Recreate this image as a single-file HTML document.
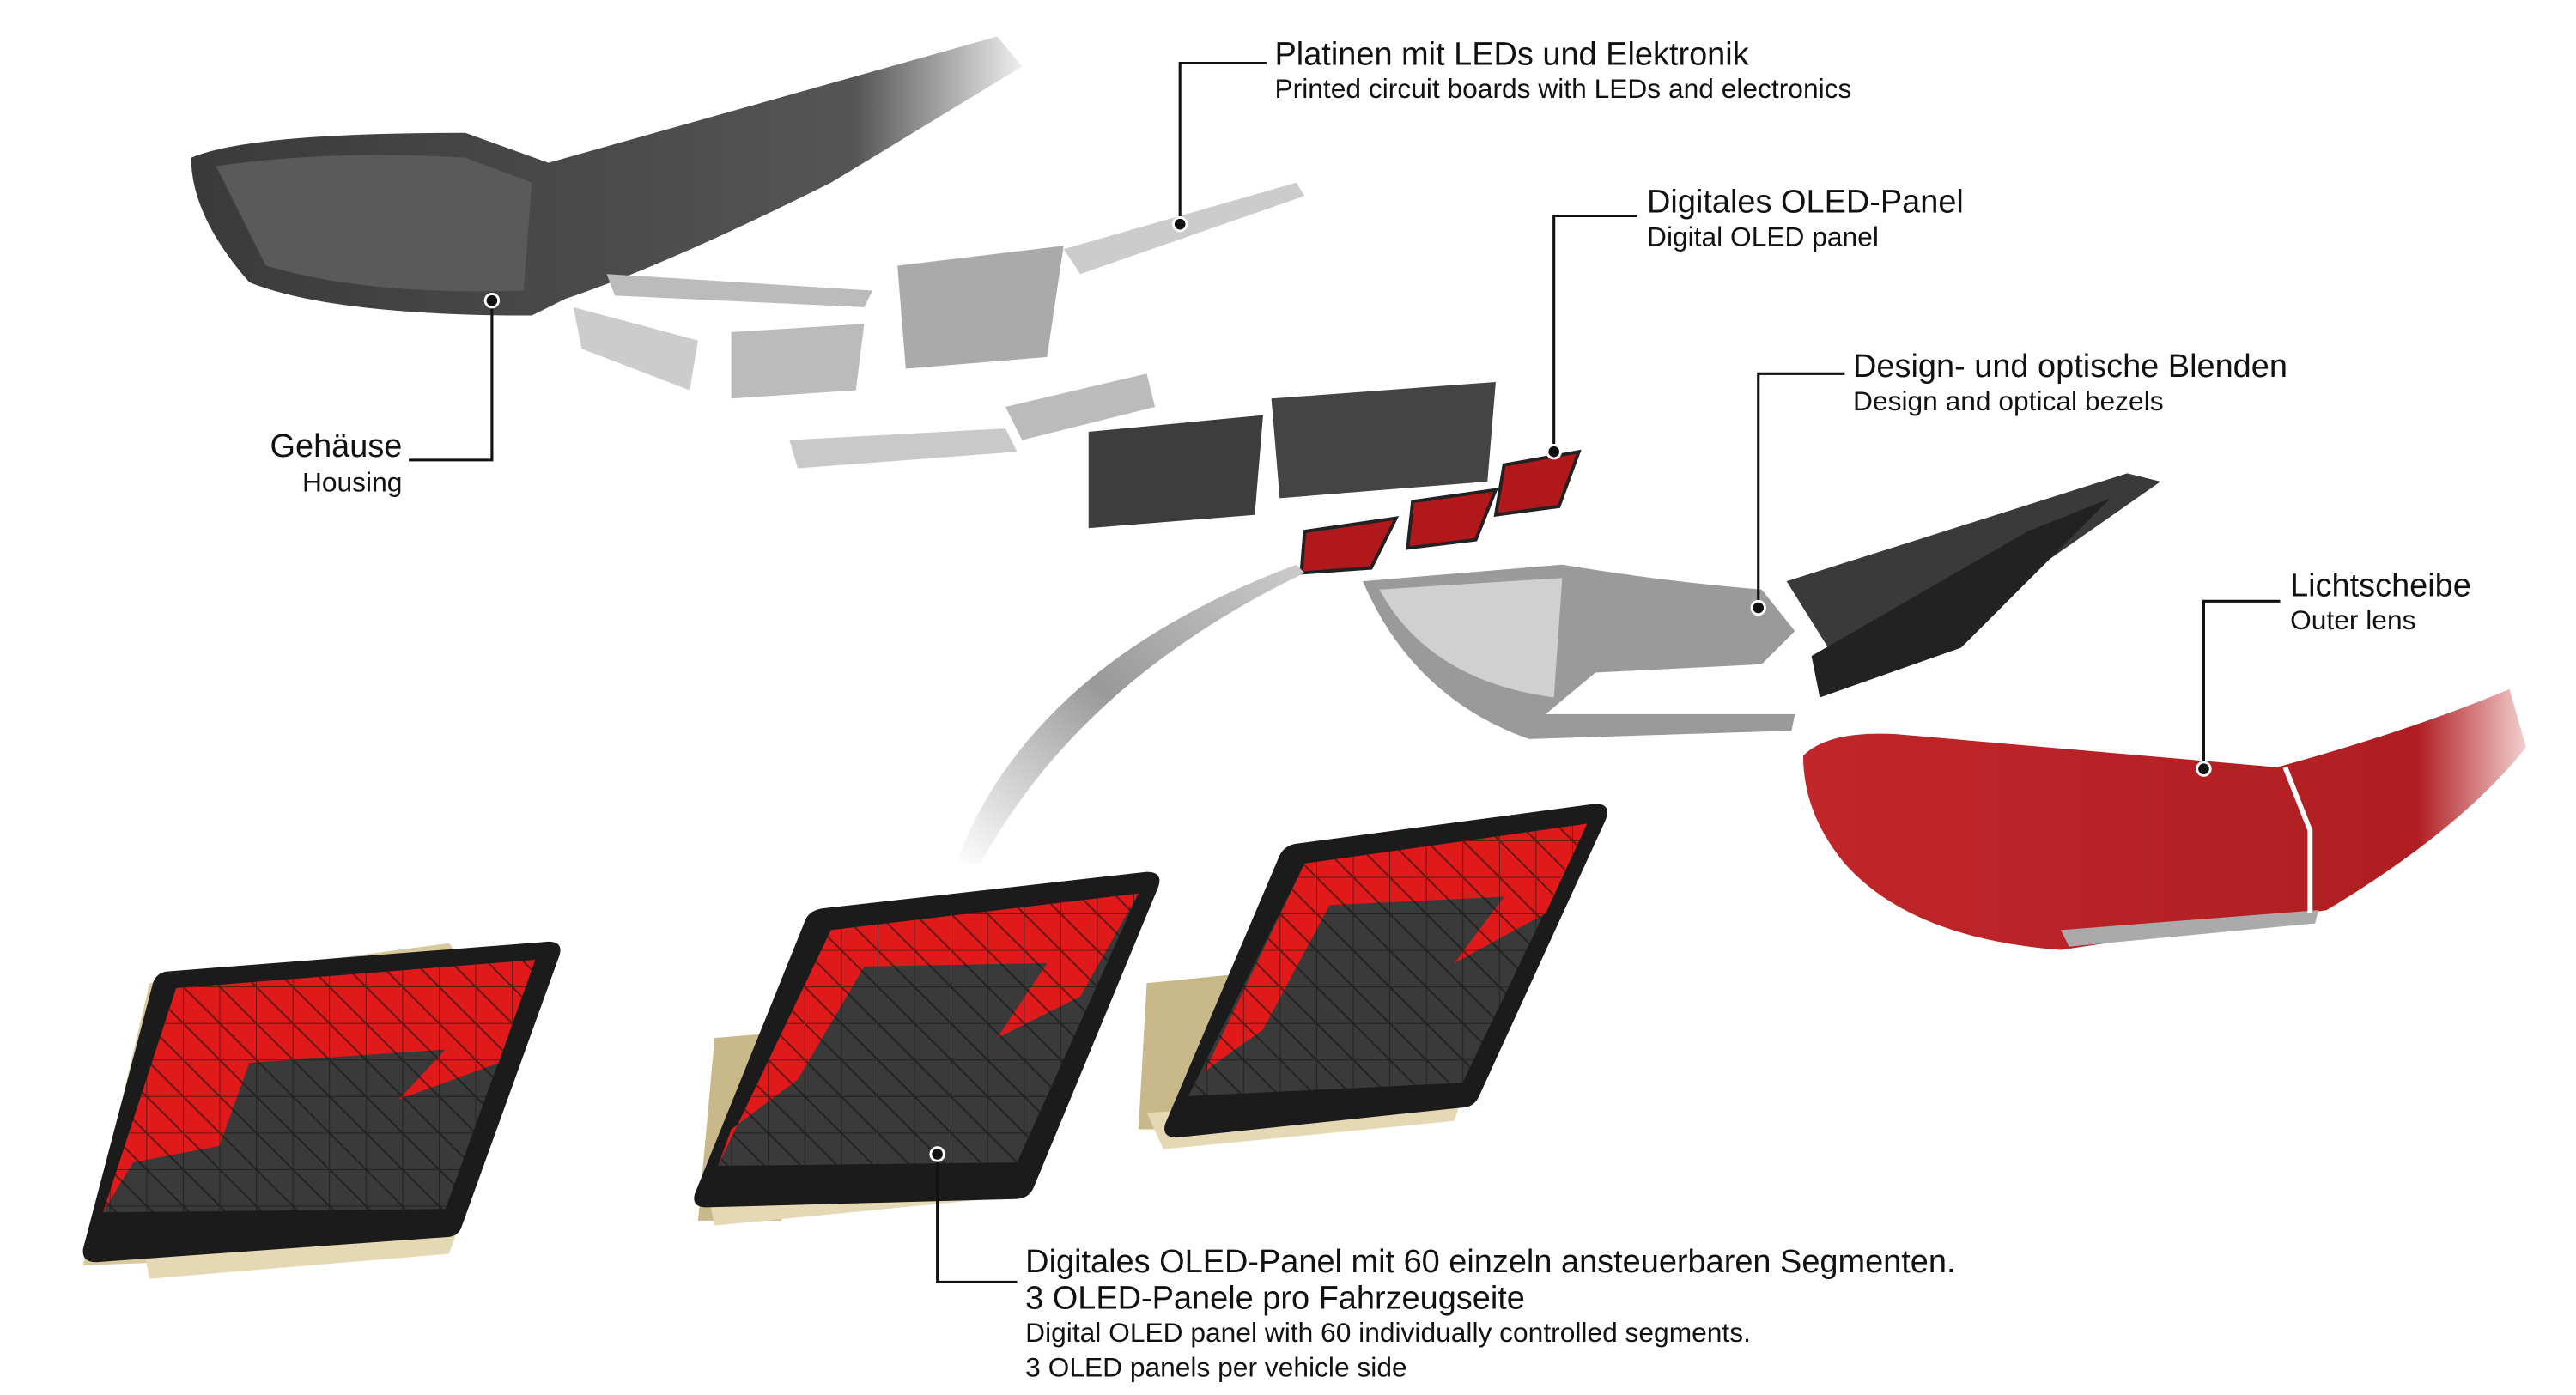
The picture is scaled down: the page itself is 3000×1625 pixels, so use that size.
<!DOCTYPE html>
<html><head><meta charset="utf-8"><style>
html,body{margin:0;padding:0;background:#fff;}
svg{display:block;}
text{font-family:"Liberation Sans",sans-serif;fill:#111;}
.b{font-size:19.6px;}
.s{font-size:16.4px;}
</style></head><body>
<svg width="3000" height="1625" viewBox="0 0 1550 840" preserveAspectRatio="none" xmlns="http://www.w3.org/2000/svg">
<defs>
<linearGradient id="hous" x1="0" y1="0" x2="1" y2="0"><stop offset="0" stop-color="#3a3a3a"/><stop offset="0.8" stop-color="#555"/><stop offset="1" stop-color="#eee"/></linearGradient>
<linearGradient id="lens" x1="0" y1="0" x2="1" y2="0"><stop offset="0" stop-color="#c0262a"/><stop offset="0.85" stop-color="#b01e22"/><stop offset="1" stop-color="#f3d0d0"/></linearGradient>
<linearGradient id="sw" x1="0" y1="1" x2="1" y2="0"><stop offset="0" stop-color="#fff"/><stop offset="0.5" stop-color="#999"/><stop offset="1" stop-color="#ccc"/></linearGradient>
<pattern id="tri" width="22" height="22" patternUnits="userSpaceOnUse"><path d="M0 0L22 22M0 0H22M0 0V22" stroke="#111" stroke-width="1" fill="none"/></pattern>
</defs>

<path d="M115 95 Q150 80 280 80 L330 98 L600 22 L615 40 L500 110 Q400 160 340 180 L320 190 Q200 190 150 170 Q115 130 115 95Z" fill="url(#hous)"/>
<path d="M130 100 Q200 90 280 95 L320 110 L315 175 Q220 178 160 160Z" fill="#5a5a5a"/>

<path d="M640 150 L780 110 L785 118 L650 165Z" fill="#ccc"/>
<path d="M365 165 L525 175 L520 185 L370 178Z" fill="#bbb"/>
<path d="M345 185 L420 205 L415 235 L350 210Z" fill="#ccc"/>
<path d="M440 200 L520 195 L515 235 L440 240Z" fill="#bbb"/>
<path d="M540 160 L640 148 L630 215 L545 222Z" fill="#aaa"/>
<path d="M475 265 L605 258 L612 272 L480 282Z" fill="#c9c9c9"/>
<path d="M605 245 L690 225 L695 245 L615 265Z" fill="#bbb"/>
<path d="M655 260 L760 250 L755 310 L655 318Z" fill="#3d3d3d"/>
<path d="M765 240 L900 230 L895 290 L770 300Z" fill="#444"/>
<path d="M785 320 L840 312 L825 342 L783 345Z" fill="#b0181c" stroke="#222" stroke-width="2"/>
<path d="M850 302 L900 295 L888 325 L847 330Z" fill="#b0181c" stroke="#222" stroke-width="2"/>
<path d="M905 280 L950 272 L938 305 L900 310Z" fill="#b0181c" stroke="#222" stroke-width="2"/>

<path d="M820 350 L940 340 Q1000 350 1060 355 L1080 380 L1060 400 L960 405 L930 430 L1080 430 L1078 440 L920 445 Q850 420 820 350Z" fill="#9a9a9a"/>
<path d="M830 355 L940 348 L935 420 Q860 410 830 355Z" fill="#d0d0d0"/>
<path d="M1075 350 L1280 285 L1300 290 L1200 360 L1100 390Z" fill="#3a3a3a"/>
<path d="M1090 395 L1220 320 L1270 300 L1180 390 L1095 420Z" fill="#222"/>

<path d="M1085 455 Q1100 440 1140 442 L1370 462 Q1450 440 1510 415 L1520 450 Q1480 500 1400 548 L1240 572 Q1150 565 1110 520 Q1085 490 1085 455Z" fill="url(#lens)"/>
<path d="M1240 560 L1395 548 L1393 556 L1245 570Z" fill="#aaa"/>
<path d="M1375 462 L1390 500 L1390 550" stroke="#fff" stroke-width="3" fill="none"/>

<path d="M575 520 Q620 400 780 340 L785 345 Q650 410 590 520Z" fill="url(#sw)"/>

<path d="M90 592 L270 568 Q275 572 270 580 L230 755 L50 762 Z" fill="#d8c99e"/>
<path d="M85 745 L275 742 L270 755 L90 770Z" fill="#e5d9b5"/>
<path d="M100 585 L330 567 Q340 567 336 577 L278 738 Q276 745 268 745 L58 760 Q49 760 50 752 L92 592 Q94 586 100 585Z" fill="#1b1b1b"/>
<path d="M106 595 L322 578 L268 728 L62 730Z" fill="#3a3a3a"/>
<path d="M106 595 L322 578 L300 640 L240 662 L268 632 L150 640 L132 690 L80 700 L62 730Z" fill="#e01a1a"/>
<path d="M106 595 L322 578 L268 728 L62 730Z" fill="url(#tri)" opacity="0.6"/>

<path d="M430 625 L490 620 L470 735 L420 735Z" fill="#c9b98a"/>
<path d="M425 715 L620 705 L615 720 L430 738Z" fill="#e5d9b5"/>
<path d="M495 547 L690 525 Q700 525 697 534 L622 715 Q619 722 611 722 L425 727 Q416 727 418 719 L485 553 Q488 548 495 547Z" fill="#1b1b1b"/>
<path d="M500 560 L685 538 L612 700 L432 702Z" fill="#3a3a3a"/>
<path d="M500 560 L685 538 L650 600 L600 625 L630 580 L520 582 L480 650 L440 680 L432 702Z" fill="#e01a1a"/>
<path d="M500 560 L685 538 L612 700 L432 702Z" fill="url(#tri)" opacity="0.6"/>

<path d="M690 592 L760 585 L735 680 L685 680Z" fill="#c9b98a"/>
<path d="M690 670 L880 660 L875 675 L700 692Z" fill="#e5d9b5"/>
<path d="M780 508 L960 484 Q970 484 966 494 L890 660 Q887 667 879 667 L708 685 Q699 685 701 677 L770 515 Q773 509 780 508Z" fill="#1b1b1b"/>
<path d="M785 520 L955 496 L880 652 L715 660Z" fill="#3a3a3a"/>
<path d="M785 520 L955 496 L930 550 L875 580 L905 540 L800 545 L760 620 L725 645Z" fill="#e01a1a"/>
<path d="M785 520 L955 496 L880 652 L715 660Z" fill="url(#tri)" opacity="0.6"/>

<g stroke="#111" stroke-width="1.6" fill="none">
<path d="M762 38 H710 V135"/>
<path d="M985 130 H935 V272"/>
<path d="M1110 225 H1058 V366"/>
<path d="M1372 362 H1326 V463"/>
<path d="M246 277 H296 V181"/>
<path d="M612 772 H564 V695"/>
</g>
<g fill="#111" stroke="#fff" stroke-width="1.5">
<circle cx="710" cy="135" r="4"/><circle cx="935" cy="272" r="4"/><circle cx="1058" cy="366" r="4"/>
<circle cx="1326" cy="463" r="4"/><circle cx="296" cy="181" r="4"/><circle cx="564" cy="695" r="4"/>
</g>

<text class="b" x="767" y="39">Platinen mit LEDs und Elektronik</text>
<text class="s" x="767" y="59">Printed circuit boards with LEDs and electronics</text>
<text class="b" x="991" y="128">Digitales OLED-Panel</text>
<text class="s" x="991" y="148">Digital OLED panel</text>
<text class="b" x="1115" y="227">Design- und optische Blenden</text>
<text class="s" x="1115" y="247">Design and optical bezels</text>
<text class="b" x="1378" y="359">Lichtscheibe</text>
<text class="s" x="1378" y="379">Outer lens</text>
<text class="b" x="242" y="275" text-anchor="end">Gehäuse</text>
<text class="s" x="242" y="296" text-anchor="end">Housing</text>
<text class="b" x="617" y="766">Digitales OLED-Panel mit 60 einzeln ansteuerbaren Segmenten.</text>
<text class="b" x="617" y="788">3 OLED-Panele pro Fahrzeugseite</text>
<text class="s" x="617" y="808">Digital OLED panel with 60 individually controlled segments.</text>
<text class="s" x="617" y="829">3 OLED panels per vehicle side</text>
</svg>
</body></html>
